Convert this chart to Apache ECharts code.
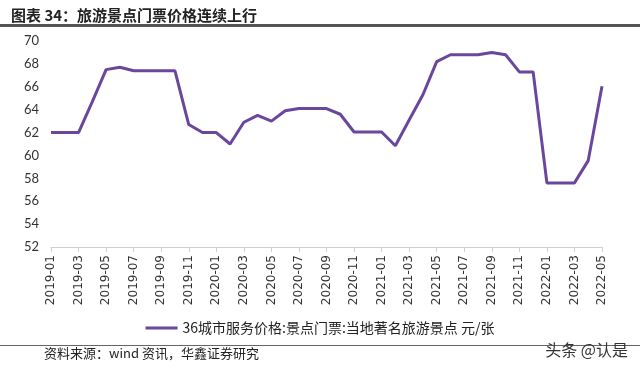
<!DOCTYPE html>
<html>
<head>
<meta charset="utf-8">
<script src="https://cdn.jsdelivr.net/npm/echarts@6/dist/echarts.min.js"></script>
<style>
html,body{margin:0;padding:0;background:#fff;}
#main{width:640px;height:373px;}
</style>
</head>
<body>
<div id="main"></div>
<script>
const months = [
  "2019-01","2019-02","2019-03","2019-04","2019-05","2019-06","2019-07","2019-08","2019-09","2019-10","2019-11","2019-12",
  "2020-01","2020-02","2020-03","2020-04","2020-05","2020-06","2020-07","2020-08","2020-09","2020-10","2020-11","2020-12",
  "2021-01","2021-02","2021-03","2021-04","2021-05","2021-06","2021-07","2021-08","2021-09","2021-10","2021-11","2021-12",
  "2022-01","2022-02","2022-03","2022-04","2022-05"
];
const ticketPrice = [
  62.0, 62.0, 62.0, 64.7, 67.5, 67.7, 67.4, 67.4, 67.4, 67.4, 62.7, 62.0,
  62.0, 61.0, 62.9, 63.5, 63.0, 63.9, 64.1, 64.1, 64.1, 63.6, 62.05, 62.05,
  62.05, 60.85, 63.1, 65.3, 68.2, 68.8, 68.8, 68.8, 69.0, 68.8, 67.3, 67.3,
  57.6, 57.6, 57.6, 59.55, 66.05
];
const seriesName = "36城市服务价格:景点门票:当地著名旅游景点 元/张";
const titleText = "图表 34：旅游景点门票价格连续上行";
const sourceText = "资料来源：wind 资讯，华鑫证券研究";
const watermark = "头条 @认是";

const chart = echarts.init(document.getElementById('main'));
chart.setOption({
  animation: false,
  backgroundColor: '#fff',
  textStyle: { fontFamily: '"Noto Sans CJK SC", "Noto Sans", sans-serif' },
  title: {
    text: titleText,
    left: 6, top: 3,
    textStyle: { fontSize: 15, fontWeight: 'bold', color: '#222', fontFamily: '"Noto Sans CJK SC", sans-serif' }
  },
  grid: { left: 51, right: 38, top: 41, bottom: 126, containLabel: false },
  legend: {
    data: [seriesName],
    top: 316, left: 'center',
    itemWidth: 32, itemHeight: 3, itemGap: 4,
    icon: 'rect',
    textStyle: { fontSize: 14, color: '#222', fontFamily: '"Noto Sans CJK SC", sans-serif' }
  },
  xAxis: {
    type: 'category',
    data: months,
    boundaryGap: false,
    axisLine: { lineStyle: { color: '#d0d0d0', width: 1 } },
    axisTick: { show: true, interval: 1, length: 5, lineStyle: { color: '#d0d0d0' } },
    axisLabel: { interval: 1, rotate: 90, fontSize: 12, color: '#333', margin: 8, fontFamily: '"DejaVu Sans", sans-serif' }
  },
  yAxis: {
    type: 'value',
    min: 52, max: 70, interval: 2,
    axisLine: { show: false },
    axisTick: { show: false },
    splitLine: { show: false },
    axisLabel: { fontSize: 13, color: '#333', margin: 12, fontFamily: 'Lato, sans-serif' }
  },
  series: [{
    name: seriesName,
    type: 'line',
    data: ticketPrice,
    symbol: 'none',
    lineStyle: { color: '#6a479c', width: 3 },
    itemStyle: { color: '#6a479c' }
  }],
  graphic: [
    { type: 'rect', shape: { x: 0, y: 24, width: 640, height: 3 }, style: { fill: '#555' } },
    { type: 'rect', shape: { x: 0, y: 345, width: 640, height: 1 }, style: { fill: '#666' } },
    { type: 'text', left: 44, top: 347, style: { text: sourceText, fontSize: 13, fill: '#222', fontFamily: '"Noto Sans CJK SC", sans-serif' } },
    { type: 'text', right: 12, top: 342, style: { text: watermark, fontSize: 16, fill: '#333', fontFamily: '"Noto Sans CJK SC", sans-serif' } }
  ]
});
</script>
</body>
</html>
